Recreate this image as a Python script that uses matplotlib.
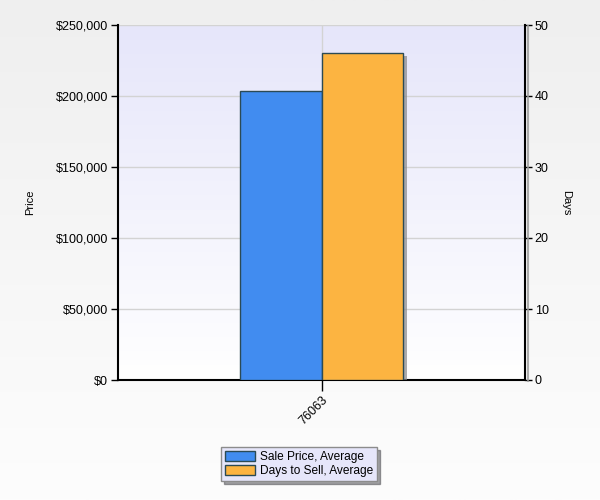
import numpy as np
import matplotlib
matplotlib.use("Agg")
import matplotlib.pyplot as plt
from matplotlib import patheffects as pe
from matplotlib.ticker import FuncFormatter, MultipleLocator
from matplotlib.colors import LinearSegmentedColormap

categories = ["76063"]
sale_price = [203500]
days_to_sell = [46]
series_names = ["Sale Price, Average", "Days to Sell, Average"]

plt.rcParams['font.family'] = ['Liberation Sans', 'DejaVu Sans']
plt.rcParams['font.size'] = 9

fig = plt.figure(figsize=(6, 5), dpi=100)

# figure background gradient
bg = fig.add_axes([0, 0, 1, 1], zorder=-10)
grad = np.linspace(0, 1, 256).reshape(-1, 1)
cm_fig = LinearSegmentedColormap.from_list("f", ["#efefef", "#fdfdfd"])
bg.imshow(grad, aspect='auto', cmap=cm_fig, extent=[0, 1, 0, 1], origin='upper')
bg.set_axis_off()

ax = fig.add_axes([118/600, 1-380/500, (525-118)/600, (380-25)/500])
cm_ax = LinearSegmentedColormap.from_list("a", ["#e6e6fa", "#ffffff"])
ax.imshow(grad, aspect='auto', cmap=cm_ax, extent=[0, 1, 0, 1], origin='upper',
          transform=ax.transAxes, zorder=0)

x = np.arange(len(categories))
w = 0.4
shadow = [pe.SimplePatchShadow(offset=(3, -2), shadow_rgbFace='#888888', alpha=0.7), pe.Normal()]
b1 = ax.bar(x - w/2, sale_price, width=w, color="#418cf0", edgecolor="#2b4a55",
            linewidth=1.0, zorder=3, label=series_names[0])
for p in b1:
    p.set_path_effects(shadow)
ax.set_xlim(-1, 1)
ax.set_ylim(0, 250000)
ax.yaxis.set_major_locator(MultipleLocator(50000))
ax.yaxis.set_major_formatter(FuncFormatter(lambda v, pos: "${:,.0f}".format(v)))
ax.set_xticks(x)
ax.set_xticklabels(categories, rotation=45, ha='right', rotation_mode='anchor')
ax.grid(True, color="#d3d3d3", linewidth=1, zorder=1)
ax.set_axisbelow(True)
ax.set_ylabel("Price", labelpad=15, fontsize=8)
ax.tick_params(axis='y', length=5, width=1, direction='out', pad=2)
ax.tick_params(axis='x', length=8, width=1, direction='out', pad=2)
ax.spines['top'].set_visible(False)
ax.spines['left'].set_linewidth(1.5)
ax.spines['bottom'].set_linewidth(1.5)
ax.spines['right'].set_visible(False)

ax2 = ax.twinx()
b2 = ax2.bar(x + w/2, days_to_sell, width=w, color="#fcb441", edgecolor="#2b4a55",
             linewidth=1.0, zorder=3, label=series_names[1])
for p in b2:
    p.set_path_effects(shadow)
ax2.set_ylim(0, 50)
ax2.yaxis.set_major_locator(MultipleLocator(10))
ax2.set_ylabel("Days", rotation=270, labelpad=16, fontsize=8)
ax2.tick_params(axis='y', length=5, width=1, direction='out', pad=2)
ax2.spines['top'].set_visible(False)
ax2.spines['left'].set_visible(False)
ax2.spines['bottom'].set_visible(False)
ax2.spines['right'].set_linewidth(1.5)
ax2.spines['right'].set_path_effects([pe.SimpleLineShadow(offset=(2, -1), shadow_color='#999999', alpha=0.8), pe.Normal()])

leg = fig.legend([b1, b2], series_names, loc='center', bbox_to_anchor=(299/600, 1-464/500),
                 frameon=True, fancybox=False, shadow=True, handlelength=2.5, handleheight=0.85,
                 borderpad=0.35, labelspacing=0.15, handletextpad=0.4, borderaxespad=0, fontsize=8.6)
leg.get_frame().set_facecolor("#e6e6fa")
leg.get_frame().set_edgecolor("#8c8c8c")
leg.get_frame().set_alpha(1)
for h in leg.legend_handles:
    h.set_path_effects([])

fig.savefig("out.png", dpi=100)
